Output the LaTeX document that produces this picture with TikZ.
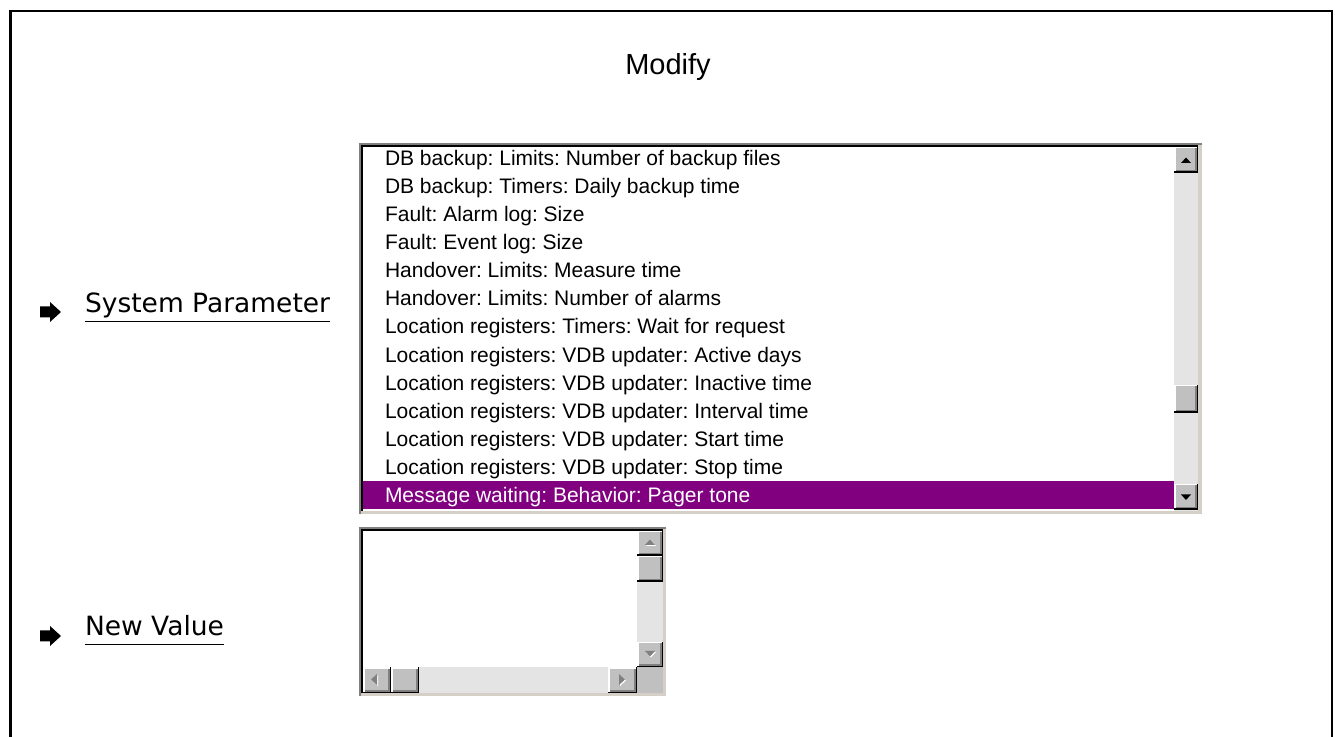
\documentclass[tikz,border=0pt]{standalone}
\usepackage{fontspec}
\usepackage{xcolor}
\setmainfont{Liberation Sans}
\newfontfamily\labelfont{DejaVu Sans}
\usetikzlibrary{positioning}
\frenchspacing

\begin{document}
\begin{tikzpicture}[x=1pt,y=1pt]
\definecolor{fillColor}{RGB}{255,255,255}
\path[use as bounding box,fill=fillColor] (0,0) rectangle (1335,736);
\begin{scope}
\path[clip] (0,0) rectangle (1335,736);
\definecolor{drawColor}{RGB}{0,0,0}

% outer frame, open at the bottom
\path[draw=drawColor,line width= 2.2pt,line join=miter] (10.5,-10) --
	(10.5,725) -- (1332,725) -- (1332,-10);

\node[text=drawColor,anchor=base,inner sep=0pt, outer sep=0pt, font=\fontsize{29}{34}\selectfont] (title) at (668,661) {Modify};
\end{scope}
\begin{scope}
% list box, sunken edge
\definecolor{edgeLight}{RGB}{212,208,200}
\definecolor{edgeDark}{RGB}{128,128,128}
\definecolor{drawColor}{RGB}{0,0,0}
\definecolor{fillColor}{RGB}{255,255,255}
\definecolor{trackColor}{RGB}{228,228,228}

\path[fill=edgeLight] (359,222) rectangle (1202,593);
\path[fill=edgeDark] (359,591) rectangle (1202,593);
\path[fill=edgeDark] (359,222) rectangle (361,593);
\path[fill=drawColor] (361,589) rectangle (1198,591);
\path[fill=drawColor] (361,225) rectangle (363,591);
\path[fill=fillColor] (363,225) rectangle (1174,589);
\path[fill=trackColor] (1174,225) rectangle (1198,589);

% selected row
\definecolor{fillColor}{RGB}{128,0,128}
\path[fill=fillColor] (363,227) rectangle (1174,255);
\end{scope}
\begin{scope}
% scroll buttons of the list box
\definecolor{btnFace}{RGB}{192,192,192}
\definecolor{btnShade}{RGB}{128,128,128}
\definecolor{btnLight}{RGB}{255,255,255}
\definecolor{drawColor}{RGB}{0,0,0}

\path[fill=drawColor] (1174,563) rectangle (1198,589);
\path[fill=btnLight] (1174,564.5) rectangle (1196.5,589);
\path[fill=btnShade] (1175.5,564.5) rectangle (1196.5,587.5);
\path[fill=btnFace] (1175.5,566) rectangle (1195,587.5);
\path[fill=drawColor] (1181,573) -- (1191,573) -- (1186,578.5) -- cycle;

\path[fill=drawColor] (1174,323) rectangle (1198,351);
\path[fill=btnLight] (1174,324.5) rectangle (1196.5,351);
\path[fill=btnShade] (1175.5,324.5) rectangle (1196.5,349.5);
\path[fill=btnFace] (1175.5,326) rectangle (1195,349.5);

\path[fill=drawColor] (1174,226) rectangle (1198,252);
\path[fill=btnLight] (1174,227.5) rectangle (1196.5,252);
\path[fill=btnShade] (1175.5,227.5) rectangle (1196.5,250.5);
\path[fill=btnFace] (1175.5,229) rectangle (1195,250.5);
\path[fill=drawColor] (1181,241.5) -- (1191,241.5) -- (1186,236) -- cycle;
\end{scope}
\begin{scope}
\path[clip] (363,225) rectangle (1174,589);
\definecolor{drawColor}{RGB}{0,0,0}

\node[text=drawColor,anchor=base west,inner sep=0pt, outer sep=0pt, font=\fontsize{21}{25}\selectfont] (item1) at (385,570.5) {DB backup: Limits: Number of backup files};

\node[text=drawColor,anchor=base west,inner sep=0pt, outer sep=0pt, font=\fontsize{21}{25}\selectfont] (item2) at (385,542.4) {DB backup: Timers: Daily backup time};

\node[text=drawColor,anchor=base west,inner sep=0pt, outer sep=0pt, font=\fontsize{21}{25}\selectfont] (item3) at (385,514.3) {Fault: Alarm log: Size};

\node[text=drawColor,anchor=base west,inner sep=0pt, outer sep=0pt, font=\fontsize{21}{25}\selectfont] (item4) at (385,486.3) {Fault: Event log: Size};

\node[text=drawColor,anchor=base west,inner sep=0pt, outer sep=0pt, font=\fontsize{21}{25}\selectfont] (item5) at (385,458.2) {Handover: Limits: Measure time};

\node[text=drawColor,anchor=base west,inner sep=0pt, outer sep=0pt, font=\fontsize{21}{25}\selectfont] (item6) at (385,430.1) {Handover: Limits: Number of alarms};

\node[text=drawColor,anchor=base west,inner sep=0pt, outer sep=0pt, font=\fontsize{21}{25}\selectfont] (item7) at (385,402.0) {Location registers: Timers: Wait for request};

\node[text=drawColor,anchor=base west,inner sep=0pt, outer sep=0pt, font=\fontsize{21}{25}\selectfont] (item8) at (385,373.9) {Location registers: VDB updater: Active days};

\node[text=drawColor,anchor=base west,inner sep=0pt, outer sep=0pt, font=\fontsize{21}{25}\selectfont] (item9) at (385,345.9) {Location registers: VDB updater: Inactive time};

\node[text=drawColor,anchor=base west,inner sep=0pt, outer sep=0pt, font=\fontsize{21}{25}\selectfont] (item10) at (385,317.8) {Location registers: VDB updater: Interval time};

\node[text=drawColor,anchor=base west,inner sep=0pt, outer sep=0pt, font=\fontsize{21}{25}\selectfont] (item11) at (385,289.7) {Location registers: VDB updater: Start time};

\node[text=drawColor,anchor=base west,inner sep=0pt, outer sep=0pt, font=\fontsize{21}{25}\selectfont] (item12) at (385,261.6) {Location registers: VDB updater: Stop time};
\definecolor{drawColor}{RGB}{255,255,255}

\node[text=drawColor,anchor=base west,inner sep=0pt, outer sep=0pt, font=\fontsize{21}{25}\selectfont] (item13) at (385,233.5) {Message waiting: Behavior: Pager tone};
\end{scope}
\begin{scope}
% value box, sunken edge
\definecolor{edgeLight}{RGB}{212,208,200}
\definecolor{edgeDark}{RGB}{128,128,128}
\definecolor{drawColor}{RGB}{0,0,0}
\definecolor{fillColor}{RGB}{255,255,255}
\definecolor{trackColor}{RGB}{228,228,228}
\definecolor{btnFace}{RGB}{192,192,192}

\path[fill=edgeLight] (359,40) rectangle (666,209);
\path[fill=edgeDark] (359,207) rectangle (666,209);
\path[fill=edgeDark] (359,40) rectangle (361,209);
\path[fill=drawColor] (361,205) rectangle (663,207);
\path[fill=drawColor] (361,43) rectangle (363,207);
\path[fill=fillColor] (363,69) rectangle (637,205);
\path[fill=trackColor] (637,69) rectangle (663,205);
\path[fill=trackColor] (363,43) rectangle (637,69);
\path[fill=btnFace] (637,43) rectangle (663,69);
\end{scope}
\begin{scope}
% scroll buttons of the value box, greyed out
\definecolor{btnFace}{RGB}{192,192,192}
\definecolor{btnShade}{RGB}{128,128,128}
\definecolor{btnLight}{RGB}{255,255,255}
\definecolor{drawColor}{RGB}{0,0,0}

% up
\path[fill=drawColor] (637,180) rectangle (663,205);
\path[fill=btnLight] (637,181.5) rectangle (661.5,205);
\path[fill=btnShade] (638.5,181.5) rectangle (661.5,203.5);
\path[fill=btnFace] (638.5,183) rectangle (660,203.5);
\path[fill=btnLight] (646,190) -- (656,190) -- (651,195.5) -- cycle;
\path[fill=btnShade] (645,191) -- (655,191) -- (650,196.5) -- cycle;

% thumb
\path[fill=drawColor] (637,154) rectangle (663,180);
\path[fill=btnLight] (637,155.5) rectangle (661.5,180);
\path[fill=btnShade] (638.5,155.5) rectangle (661.5,178.5);
\path[fill=btnFace] (638.5,157) rectangle (660,178.5);

% down
\path[fill=drawColor] (637,69) rectangle (663,94);
\path[fill=btnLight] (637,70.5) rectangle (661.5,94);
\path[fill=btnShade] (638.5,70.5) rectangle (661.5,92.5);
\path[fill=btnFace] (638.5,72) rectangle (660,92.5);
\path[fill=btnLight] (646,84) -- (656,84) -- (651,78.5) -- cycle;
\path[fill=btnShade] (645,85) -- (655,85) -- (650,79.5) -- cycle;

% left
\path[fill=drawColor] (363,43) rectangle (391,69);
\path[fill=btnLight] (363,44.5) rectangle (389.5,69);
\path[fill=btnShade] (364.5,44.5) rectangle (389.5,67.5);
\path[fill=btnFace] (364.5,46) rectangle (388,67.5);
\path[fill=btnLight] (378,50) -- (378,61) -- (372,55.5) -- cycle;
\path[fill=btnShade] (377,51) -- (377,62) -- (371,56.5) -- cycle;

% thumb
\path[fill=drawColor] (391,43) rectangle (419,69);
\path[fill=btnLight] (391,44.5) rectangle (417.5,69);
\path[fill=btnShade] (392.5,44.5) rectangle (417.5,67.5);
\path[fill=btnFace] (392.5,46) rectangle (416,67.5);

% right
\path[fill=drawColor] (608,43) rectangle (637,69);
\path[fill=btnLight] (608,44.5) rectangle (635.5,69);
\path[fill=btnShade] (609.5,44.5) rectangle (635.5,67.5);
\path[fill=btnFace] (609.5,46) rectangle (634,67.5);
\path[fill=btnLight] (620,50) -- (620,61) -- (626,55.5) -- cycle;
\path[fill=btnShade] (619,51) -- (619,62) -- (625,56.5) -- cycle;
\end{scope}
\begin{scope}
\definecolor{drawColor}{RGB}{0,0,0}

% pointer arrows
\path[fill=drawColor] (40,418.5) -- (50,418.5) -- (50,414) -- (61,424) --
	(50,434) -- (50,429.5) -- (40,429.5) -- cycle;

\path[fill=drawColor] (40,94.5) -- (50,94.5) -- (50,90) -- (61,100) --
	(50,110) -- (50,105.5) -- (40,105.5) -- cycle;

\node[text=drawColor,anchor=base west,inner sep=0pt, outer sep=0pt, font=\labelfont\fontsize{26.5}{30}\selectfont] (sysparam) at (85,423) {System Parameter};

\node[text=drawColor,anchor=base west,inner sep=0pt, outer sep=0pt, font=\labelfont\fontsize{26.5}{30}\selectfont] (newvalue) at (85,100) {New Value};

\path[draw=drawColor,line width= 1.5pt] ([yshift=-8.5pt]sysparam.base west) --
	([yshift=-8.5pt]sysparam.base east);

\path[draw=drawColor,line width= 1.5pt] ([yshift=-8.5pt]newvalue.base west) --
	([yshift=-8.5pt]newvalue.base east);
\end{scope}
\end{tikzpicture}
\end{document}
